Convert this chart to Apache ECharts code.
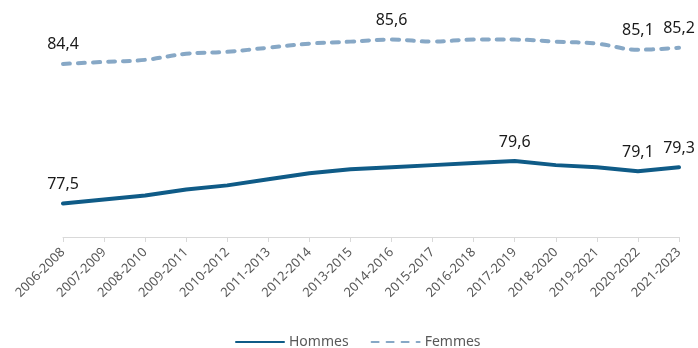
<!DOCTYPE html>
<html>
<head>
<meta charset="utf-8">
<script src="https://cdn.jsdelivr.net/npm/echarts@6/dist/echarts.min.js"></script>
<style>
  html, body { margin: 0; padding: 0; background: #ffffff; }
  #chart { width: 698px; height: 348px; }
</style>
</head>
<body>
<div id="chart"></div>
<script>
// Périodes triennales
const periodes = [
  '2006-2008', '2007-2009', '2008-2010', '2009-2011', '2010-2012', '2011-2013',
  '2012-2014', '2013-2015', '2014-2016', '2015-2017', '2016-2018', '2017-2019',
  '2018-2020', '2019-2021', '2020-2022', '2021-2023'
];

// Espérance de vie à la naissance (années)
const hommes = [77.5, 77.7, 77.9, 78.2, 78.4, 78.7, 79.0, 79.2, 79.3, 79.4, 79.5, 79.6, 79.4, 79.3, 79.1, 79.3];
const femmes = [84.4, 84.5, 84.6, 84.9, 85.0, 85.2, 85.4, 85.5, 85.6, 85.5, 85.6, 85.6, 85.5, 85.4, 85.1, 85.2];

// Points dont la valeur est affichée
const etiquettesHommes = [0, 11, 14, 15];
const etiquettesFemmes = [0, 8, 14, 15];

const FONT = '"Noto Sans", "Liberation Sans", sans-serif';

function avecEtiquettes(valeurs, indices) {
  return valeurs.map((v, i) => ({
    value: v,
    label: { show: indices.includes(i) }
  }));
}

const labelStyle = {
  show: false,
  position: 'top',
  distance: 11,
  color: '#1a1a1a',
  fontSize: 16,
  fontFamily: FONT,
  formatter: p => p.value.toFixed(1).replace('.', ',')
};

const chart = echarts.init(document.getElementById('chart'), null, { renderer: 'canvas' });

chart.setOption({
  animation: false,
  backgroundColor: '#ffffff',
  grid: { left: 63, right: 19, top: 31.5, bottom: 111, containLabel: false },
  legend: {
    top: 330,
    left: 230,
    itemWidth: 48,
    itemHeight: 10,
    itemGap: 22,
    itemStyle: { opacity: 0 },
    textStyle: { color: '#595959', fontSize: 14, fontFamily: FONT },
    data: ['Hommes', 'Femmes']
  },
  xAxis: {
    type: 'category',
    data: periodes,
    boundaryGap: false,
    axisLine: { show: true, lineStyle: { color: '#d9d9d9', width: 1 } },
    axisTick: { show: true, length: 5, lineStyle: { color: '#d9d9d9' } },
    axisLabel: {
      rotate: 45,
      interval: 0,
      margin: 13,
      color: '#595959',
      fontSize: 13,
      fontFamily: FONT
    },
    splitLine: { show: false }
  },
  yAxis: {
    type: 'value',
    min: 75.85,
    max: 86,
    show: false,
    splitLine: { show: false }
  },
  series: [
    {
      name: 'Hommes',
      type: 'line',
      data: avecEtiquettes(hommes, etiquettesHommes),
      showSymbol: true,
      symbol: 'circle',
      symbolSize: 0,
      smooth: false,
      lineStyle: { color: '#0f5b87', width: 4, cap: 'round', join: 'round' },
      itemStyle: { color: '#0f5b87' },
      label: labelStyle
    },
    {
      name: 'Femmes',
      type: 'line',
      data: avecEtiquettes(femmes, etiquettesFemmes),
      showSymbol: true,
      symbol: 'circle',
      symbolSize: 0,
      smooth: 0.4,
      lineStyle: { color: '#87a8c6', width: 4, type: [7, 8], cap: 'round', join: 'round' },
      itemStyle: { color: '#87a8c6' },
      label: labelStyle
    }
  ]
});
</script>
</body>
</html>
